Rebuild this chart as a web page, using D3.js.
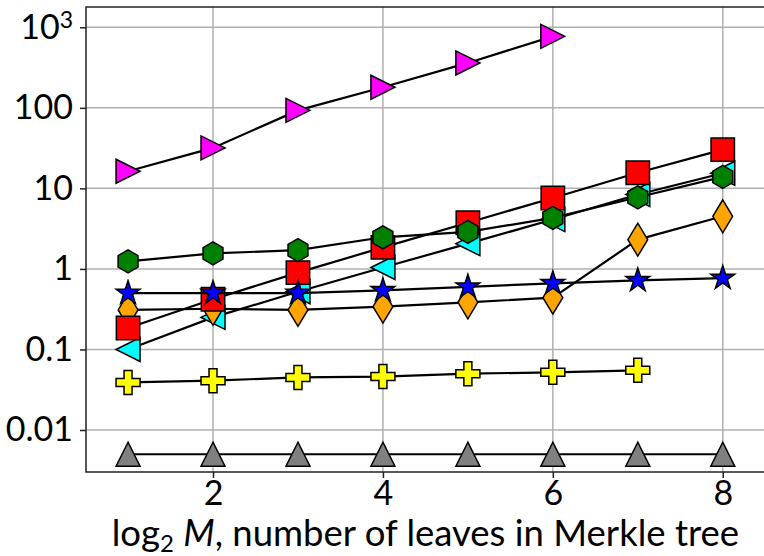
<!DOCTYPE html>
<html>
<head>
<meta charset="utf-8">
<script src="https://cdn.jsdelivr.net/npm/d3@7"></script>
<style>
  body { margin: 0; background: #fff; }
  svg { display: block; }
  .tick text { font-family: Lato, "DejaVu Sans", sans-serif; }
</style>
</head>
<body>
<div id="chart"></div>
<script>
// log2 M on the x axis
var leaves = [1, 2, 3, 4, 5, 6, 7, 8];

// series values (log scale)
var grayTri = [0.005, 0.005, 0.005, 0.005, 0.005, 0.005, 0.005, 0.005];
var yellowPlus = [0.039, 0.041, 0.045, 0.046, 0.050, 0.052, 0.055];
var cyanLeft = [0.10, 0.25, 0.52, 1.04, 2.06, 4.1, 8.4, 15.4];
var orangeDiamond = [0.31, 0.32, 0.31, 0.34, 0.385, 0.44, 2.31, 4.5];
var redSquare = [0.185, 0.42, 0.90, 1.85, 3.75, 7.6, 15.6, 30.3];
var greenHex = [1.24, 1.56, 1.71, 2.47, 2.88, 4.3, 7.75, 13.9];
var blueStar = [0.50, 0.50, 0.50, 0.54, 0.60, 0.66, 0.72, 0.77];
var magentaRight = [16.3, 31.8, 93, 180, 361, 772];

var yTicks = [0.01, 0.1, 1, 10, 100, 1000];
var xTicks = [2, 4, 6, 8];

var width = 764, height = 556;
var plotLeft = 86, plotTop = 7, plotBottom = 472, plotRight = 764.8;

var svg = d3.select("#chart").append("svg")
	.attr("width", width)
	.attr("height", height);

var x = d3.scaleLinear().domain([0.505, 8.495]).range([plotLeft, plotRight]);
var y = d3.scaleLog().domain([0.00301, 1786]).range([plotBottom, plotTop]);

svg.append("defs").append("clipPath").attr("id", "plot")
	.append("rect").attr("x", plotLeft).attr("y", plotTop)
	.attr("width", plotRight - plotLeft).attr("height", plotBottom - plotTop);

// grid
var grid = svg.append("g");
grid.selectAll(".gx").data(xTicks).enter().append("line")
	.attr("x1", function(d) { return x(d); }).attr("x2", function(d) { return x(d); })
	.attr("y1", plotTop).attr("y2", plotBottom)
	.attr("stroke", "#b0b0b0").attr("stroke-width", 1.5);
grid.selectAll(".gy").data(yTicks).enter().append("line")
	.attr("x1", plotLeft).attr("x2", plotRight)
	.attr("y1", function(d) { return y(d); }).attr("y2", function(d) { return y(d); })
	.attr("stroke", "#b0b0b0").attr("stroke-width", 1.5);

// marker shapes, matplotlib style
function tri(dir) {
	return function(r) {
		var p = {
			up: [[0, -r], [-r, r], [r, r]],
			right: [[r, 0], [-r, -r], [-r, r]],
			left: [[-r, 0], [r, -r], [r, r]]
		}[dir];
		return "M" + p.join("L") + "Z";
	};
}
function square(r) {
	return "M" + [[-r, -r], [r, -r], [r, r], [-r, r]].join("L") + "Z";
}
function hexagon(r) {
	var p = [];
	for (var i = 0; i < 6; i++) {
		var a = -Math.PI / 2 + i * Math.PI / 3;
		p.push([r * Math.cos(a), r * Math.sin(a)]);
	}
	return "M" + p.join("L") + "Z";
}
function star(r) {
	var p = [], ri = r * 0.381966;
	for (var i = 0; i < 10; i++) {
		var a = -Math.PI / 2 + i * Math.PI / 5;
		var rr = i % 2 ? ri : r;
		p.push([rr * Math.cos(a), rr * Math.sin(a)]);
	}
	return "M" + p.join("L") + "Z";
}
function thinDiamond(r) {
	return "M" + [[0, -r], [r * 0.6, 0], [0, r], [-r * 0.6, 0]].join("L") + "Z";
}
function plus(r) {
	var u = r / 3;
	var p = [[-1, -3], [1, -3], [1, -1], [3, -1], [3, 1], [1, 1], [1, 3], [-1, 3], [-1, 1], [-3, 1], [-3, -1], [-1, -1]]
		.map(function(v) { return [v[0] * u, v[1] * u]; });
	return "M" + p.join("L") + "Z";
}

var series = [
	{ values: grayTri, color: "#808080", shape: tri("up"), r: 12 },
	{ values: yellowPlus, color: "#ffff00", shape: plus, r: 12 },
	{ values: cyanLeft, color: "#00ffff", shape: tri("left"), r: 12 },
	{ values: orangeDiamond, color: "#ffa500", shape: thinDiamond, r: 16.5 },
	{ values: redSquare, color: "#ff0000", shape: square, r: 11.7 },
	{ values: greenHex, color: "#008000", shape: hexagon, r: 11.5 },
	{ values: blueStar, color: "#0000ff", shape: star, r: 12.5 },
	{ values: magentaRight, color: "#ff00ff", shape: tri("right"), r: 12 }
];

var line = d3.line()
	.x(function(d, i) { return x(leaves[i]); })
	.y(function(d) { return y(d); });

var plot = svg.append("g").attr("clip-path", "url(#plot)");

series.forEach(function(s) {
	var g = plot.append("g");
	g.append("path")
		.attr("d", line(s.values))
		.attr("fill", "none")
		.attr("stroke", "#000")
		.attr("stroke-width", 2.2);
	g.selectAll("path.m").data(s.values).enter().append("path")
		.attr("class", "m")
		.attr("transform", function(d, i) { return "translate(" + x(leaves[i]) + "," + y(d) + ")"; })
		.attr("d", s.shape(s.r))
		.attr("fill", s.color)
		.attr("stroke", "#000")
		.attr("stroke-width", 1.5)
		.attr("stroke-linejoin", "miter");
});

// frame
svg.append("rect")
	.attr("x", plotLeft).attr("y", plotTop)
	.attr("width", plotRight - plotLeft).attr("height", plotBottom - plotTop)
	.attr("fill", "none").attr("stroke", "#222").attr("stroke-width", 1.5);

// axes
var xAxis = svg.append("g")
	.attr("transform", "translate(0," + plotBottom + ")")
	.call(d3.axisBottom(x).tickValues(xTicks).tickSize(6).tickPadding(3).tickFormat(d3.format("d")));

var yAxis = svg.append("g")
	.attr("transform", "translate(" + plotLeft + ",0)")
	.call(d3.axisLeft(y).tickValues(yTicks).tickSize(6).tickPadding(7)
		.tickFormat(function(d) { return d === 1000 ? "" : (d >= 1 ? d3.format("d")(d) : String(d)); }));

[xAxis, yAxis].forEach(function(a) {
	a.select(".domain").remove();
	a.selectAll(".tick line").attr("stroke", "#222").attr("stroke-width", 1.5);
	a.selectAll(".tick text").attr("fill", "#000").style("font-size", "34px");
});

// 10^3 label with superscript
var t3 = yAxis.selectAll(".tick").filter(function(d) { return d === 1000; }).select("text");
t3.append("tspan").text("10");
t3.append("tspan").attr("dy", "-0.45em").style("font-size", "23px").text("3");

// x label
var xl = svg.append("text")
	.attr("x", (plotLeft + plotRight) / 2)
	.attr("y", 546)
	.attr("text-anchor", "middle")
	.style("font-family", 'Lato, "DejaVu Sans", sans-serif')
	.style("font-size", "36.5px")
	.attr("fill", "#000");
xl.append("tspan").text("log");
xl.append("tspan").attr("dy", 6).style("font-size", "24px").text("2");
xl.append("tspan").attr("dy", -6).text(" ");
xl.append("tspan").style("font-style", "italic").text("M");
xl.append("tspan").text(", number of leaves in Merkle tree");
</script>
</body>
</html>
